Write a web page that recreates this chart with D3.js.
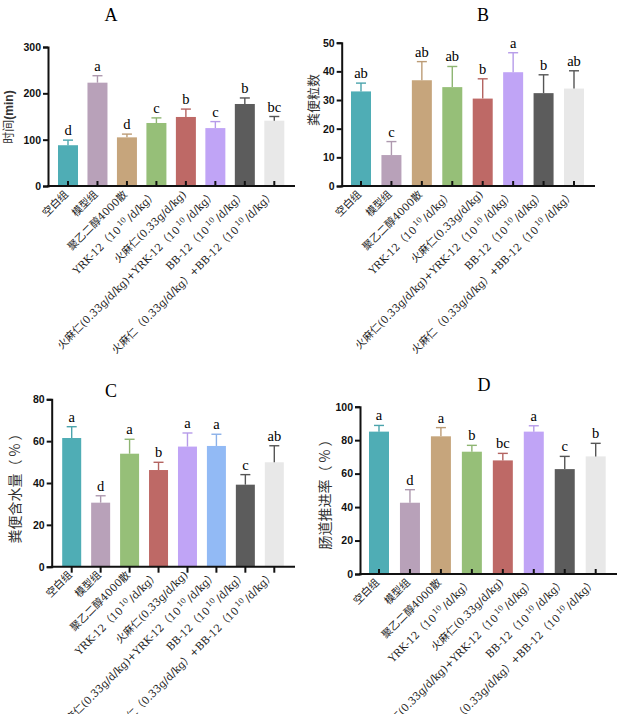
<!DOCTYPE html>
<html>
<head>
<meta charset="utf-8">
<script src="https://cdn.jsdelivr.net/npm/d3@7/dist/d3.min.js"></script>
<style>
  body { margin: 0; background: #fff; }
  svg { display: block; }
</style>
</head>
<body>
<svg id="chart" width="623" height="714"></svg>
<script>
// group labels, shared by all four panels (^{..} marks a superscript)
var categories = [
    '空白组',
    '模型组',
    '聚乙二醇4000散',
    'YRK-12（10^{10}/d/kg）',
    '火麻仁(0.33g/d/kg)',
    '火麻仁(0.33g/d/kg)+YRK-12（10^{10}/d/kg）',
    'BB-12（10^{10}/d/kg）',
    '火麻仁（0.33g/d/kg）+BB-12（10^{10}/d/kg）'
];

// A: time (min)
var valuesA = [88, 223, 105, 136, 149, 125, 177, 141];
var errorA = [11, 15, 7, 11, 17, 14, 13, 9];
var lettersA = ['d', 'a', 'd', 'c', 'b', 'c', 'b', 'bc'];
var ticksA = [0, 100, 200, 300];

// B: stool count
var valuesB = [33.0, 10.8, 36.9, 34.5, 30.5, 39.7, 32.4, 34.0];
var errorB = [2.9, 4.7, 6.5, 7.2, 6.9, 6.8, 6.4, 6.2];
var lettersB = ['ab', 'c', 'ab', 'ab', 'b', 'a', 'b', 'ab'];
var ticksB = [0, 10, 20, 30, 40, 50];

// C: stool water content (%)
var valuesC = [61.5, 30.6, 54.0, 46.2, 57.4, 57.7, 39.2, 49.9];
var errorC = [5.4, 3.3, 6.9, 3.7, 6.5, 5.6, 4.8, 7.9];
var lettersC = ['a', 'd', 'a', 'b', 'a', 'a', 'c', 'ab'];
var ticksC = [0, 20, 40, 60, 80];

// D: intestinal propulsion rate (%)
var valuesD = [85.1, 42.6, 82.3, 73.1, 67.9, 85.1, 62.7, 70.3];
var errorD = [3.7, 7.8, 5.2, 3.8, 4.2, 3.5, 7.6, 7.8];
var lettersD = ['a', 'd', 'a', 'b', 'bc', 'a', 'c', 'b'];
var ticksD = [0, 20, 40, 60, 80, 100];

var palette = {
    teal: '#4fadb5', mauve: '#b8a1b9', tan: '#c6a57c', green: '#96bf78',
    red: '#be6966', lavender: '#c0a4f6', blue: '#92baf5', dark: '#5c5c5c', light: '#e8e8e8'
};
var colorsABD = ['teal', 'mauve', 'tan', 'green', 'red', 'lavender', 'dark', 'light'];
var colorsC = ['teal', 'mauve', 'green', 'red', 'lavender', 'blue', 'dark', 'light'];

var svg = d3.select('#chart');
var latin = "'Liberation Serif', 'Noto Sans CJK SC', serif";
var labelFont = "'DejaVu Serif', 'Noto Sans CJK SC', serif";

function addLabel(sel, str) {
    var parts = str.split(/\^\{(\d+)\}/);
    parts.forEach(function(p, i) {
        if (!p) return;
        if (i % 2 === 1) {
            sel.append('tspan').attr('dy', -4).style('font-size', '7.5px').text('\u2009' + p);
            sel.append('tspan').attr('dy', 4).text('\u2009');
        } else {
            sel.append('tspan').text(p);
        }
    });
}

function drawPanel(cfg) {
    var g = svg.append('g');

    var x = d3.scalePoint().domain(d3.range(categories.length)).range(cfg.xr);
    var y = d3.scaleLinear().domain([0, cfg.max]).range(cfg.yr);
    var y0 = y(0);

    // bars
    g.selectAll('rect.bar').data(cfg.values).enter().append('rect')
        .attr('class', 'bar')
        .attr('x', function(d, i) { return x(i) - cfg.barW / 2; })
        .attr('y', function(d) { return y(d); })
        .attr('width', cfg.barW)
        .attr('height', function(d) { return y0 - y(d); })
        .attr('fill', function(d, i) { return palette[cfg.colors[i]]; });

    // error bars (up only)
    var errColor = function(i) {
        var c = cfg.colors[i];
        return (c === 'light' || c === 'dark') ? '#555' : d3.color(palette[c]).darker(0.15);
    };
    var eb = g.selectAll('g.err').data(cfg.values).enter().append('g').attr('class', 'err');
    eb.append('line')
        .attr('x1', function(d, i) { return x(i); })
        .attr('x2', function(d, i) { return x(i); })
        .attr('y1', function(d) { return y(d); })
        .attr('y2', function(d, i) { return y(d + cfg.errors[i]); })
        .attr('stroke', function(d, i) { return errColor(i); })
        .attr('stroke-width', 1.4);
    eb.append('line')
        .attr('x1', function(d, i) { return x(i) - 5; })
        .attr('x2', function(d, i) { return x(i) + 5; })
        .attr('y1', function(d, i) { return y(d + cfg.errors[i]); })
        .attr('y2', function(d, i) { return y(d + cfg.errors[i]); })
        .attr('stroke', function(d, i) { return errColor(i); })
        .attr('stroke-width', 1.4);

    // significance letters
    g.selectAll('text.sig').data(cfg.values).enter().append('text')
        .attr('class', 'sig')
        .attr('x', function(d, i) { return x(i); })
        .attr('y', function(d, i) { return y(d + cfg.errors[i]) - 5; })
        .attr('text-anchor', 'middle')
        .style('font-family', latin)
        .style('font-size', '14.5px')
        .text(function(d, i) { return cfg.letters[i]; });

    // y axis
    var yAxis = d3.axisLeft(y).tickValues(cfg.ticks).tickSize(5).tickPadding(2);
    var ya = g.append('g').attr('transform', 'translate(' + cfg.axisX + ',0)').call(yAxis);
    ya.select('.domain').attr('stroke', '#111').attr('stroke-width', 2);
    ya.selectAll('.tick line').attr('stroke', '#111').attr('stroke-width', 2);
    ya.selectAll('.tick text')
        .style('font-family', "'Liberation Sans', Arial, sans-serif")
        .style('font-weight', 'bold')
        .style('font-size', '10.5px')
        .attr('fill', '#111');

    // x axis baseline and ticks
    g.append('line')
        .attr('x1', cfg.axisX - 1).attr('x2', cfg.xEnd)
        .attr('y1', y0).attr('y2', y0)
        .attr('stroke', '#111').attr('stroke-width', 2);
    g.selectAll('line.xt').data(categories).enter().append('line')
        .attr('class', 'xt')
        .attr('x1', function(d, i) { return x(i); })
        .attr('x2', function(d, i) { return x(i); })
        .attr('y1', y0)
        .attr('y2', y0 + cfg.xTick)
        .attr('stroke', '#111').attr('stroke-width', 2);

    // rotated category labels
    g.selectAll('text.cat').data(categories).enter().append('text')
        .attr('class', 'cat')
        .attr('transform', function(d, i) {
            return 'translate(' + (x(i) + 1) + ',' + (y0 + 9) + ') rotate(-45)';
        })
        .attr('text-anchor', 'end')
        .style('font-family', labelFont)
        .style('font-size', '10.5px')
        .attr('fill', '#222')
        .each(function(d) { addLabel(d3.select(this), d); });

    // panel title
    g.append('text')
        .attr('x', cfg.titleX).attr('y', cfg.titleY)
        .attr('text-anchor', 'middle')
        .style('font-family', latin)
        .style('font-size', '18px')
        .text(cfg.title);

    // y label
    var yl = g.append('text')
        .attr('transform', 'translate(' + cfg.ylX + ',' + cfg.ylY + ') rotate(-90)')
        .attr('text-anchor', 'middle')
        .style('font-family', "'Noto Sans CJK SC', sans-serif")
        .style('font-size', cfg.ylSize + 'px')
        .attr('fill', '#333');
    yl.append('tspan').text(cfg.ylabel);
    if (cfg.ylUnit) {
        yl.append('tspan')
            .style('font-family', "'Liberation Sans', Arial, sans-serif")
            .style('font-weight', 'bold')
            .text(cfg.ylUnit);
    }
}

drawPanel({
    title: 'A', titleX: 111, titleY: 21,
    values: valuesA, errors: errorA, letters: lettersA, ticks: ticksA, max: 300,
    colors: colorsABD, xr: [68, 274.3], yr: [186, 47], axisX: 48, xEnd: 295,
    barW: 20, xTick: -5,
    ylabel: '时间', ylUnit: '(min)', ylX: 13, ylY: 117, ylSize: 12
});

drawPanel({
    title: 'B', titleX: 483, titleY: 21,
    values: valuesB, errors: errorB, letters: lettersB, ticks: ticksB, max: 50,
    colors: colorsABD, xr: [361, 574], yr: [186, 42.7], axisX: 341.7, xEnd: 595,
    barW: 20, xTick: -5,
    ylabel: '粪便粒数', ylX: 318, ylY: 100, ylSize: 13
});

drawPanel({
    title: 'C', titleX: 111, titleY: 397,
    values: valuesC, errors: errorC, letters: lettersC, ticks: ticksC, max: 80,
    colors: colorsC, xr: [71.7, 274.3], yr: [566.7, 399.3], axisX: 51.7, xEnd: 295,
    barW: 19, xTick: 6,
    ylabel: '粪便含水量（ % ）', ylX: 20, ylY: 485, ylSize: 14
});

drawPanel({
    title: 'D', titleX: 484, titleY: 391,
    values: valuesD, errors: errorD, letters: lettersD, ticks: ticksD, max: 100,
    colors: colorsABD, xr: [379, 595.7], yr: [574, 406.7], axisX: 360, xEnd: 617,
    barW: 20, xTick: -5,
    ylabel: '肠道推进率（ % ）', ylX: 330, ylY: 491, ylSize: 14
});
</script>
</body>
</html>
